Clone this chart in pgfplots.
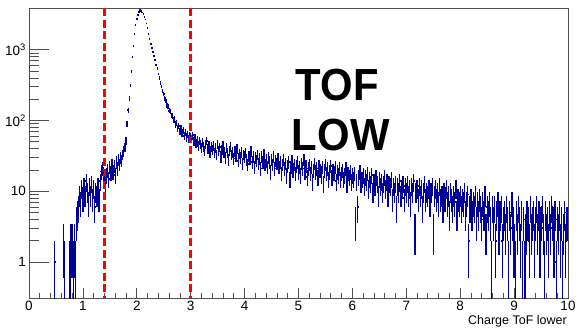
\documentclass[border=0pt]{standalone}
\usepackage{pgfplots}
\pgfplotsset{compat=1.18}
\usepackage{pgfplotstable}
\usepackage{fontspec}
\setmainfont{Liberation Sans}
\definecolor{histblue}{RGB}{0,0,153}
\definecolor{axgray}{RGB}{80,80,80}

\pgfplotstableread[row sep=\\]{
x y\\
0.01 570\\ 0.48 1\\ 0.64 2\\ 0.66 1\\ 0.76 1\\ 0.78 2\\ 0.80 2\\ 0.82 1\\ 0.84 2\\ 0.86 1\\ 0.88 4\\ 0.90 5\\
0.92 6\\ 0.94 9\\ 0.96 7\\ 0.98 11\\ 1.00 8\\ 1.02 12\\ 1.04 9\\ 1.06 14\\ 1.08 10\\ 1.10 7\\
1.12 12\\ 1.14 9\\ 1.16 13\\ 1.18 8\\ 1.20 11\\ 1.22 6\\ 1.24 10\\ 1.26 9\\ 1.28 12\\ 1.30 8\\
1.32 14\\ 1.34 19\\ 1.36 21\\ 1.38 18\\ 1.40 16\\ 1.42 13\\ 1.44 17\\ 1.46 20\\ 1.48 15\\ 1.50 22\\
1.52 18\\ 1.54 24\\ 1.56 19\\ 1.58 23\\ 1.60 17\\ 1.62 26\\ 1.64 21\\ 1.66 28\\ 1.68 24\\ 1.70 30\\
1.72 27\\ 1.74 33\\ 1.76 37\\ 1.78 42\\ 1.80 52\\ 1.82 90\\
1.84 140\\ 1.86 205\\ 1.88 315\\ 1.90 495\\ 1.92 785\\ 1.94 1140\\ 1.96 1660\\ 1.98 2230\\ 2.00 2760\\
2.02 3120\\ 2.04 3460\\ 2.06 3640\\ 2.08 3560\\ 2.10 3370\\ 2.12 3190\\ 2.14 2950\\ 2.16 2690\\ 2.18 2360\\ 2.20 2010\\
2.22 1690\\ 2.24 1440\\ 2.26 1210\\ 2.28 1070\\ 2.30 925\\ 2.32 815\\ 2.34 725\\ 2.36 615\\ 2.38 545\\ 2.40 455\\
2.42 400\\ 2.44 340\\ 2.46 305\\ 2.48 262\\ 2.50 238\\ 2.52 206\\ 2.54 188\\ 2.56 165\\ 2.58 158\\ 2.60 138\\
2.62 136\\ 2.64 119\\ 2.66 117\\ 2.68 102\\ 2.70 104\\ 2.72 89\\ 2.74 92\\ 2.76 78\\ 2.78 84\\ 2.80 71\\
2.82 77\\ 2.84 66\\ 2.86 73\\ 2.88 61\\ 2.90 68\\ 2.92 58\\ 2.94 64\\ 2.96 55\\ 2.98 62\\ 3.00 60\\
3.02 55\\ 3.04 62\\ 3.06 51\\ 3.08 57\\ 3.10 48\\ 3.12 53\\ 3.14 44\\ 3.16 52\\ 3.18 47\\ 3.20 41\\
3.22 49\\ 3.24 43\\ 3.26 38\\ 3.28 46\\ 3.30 52\\ 3.32 40\\ 3.34 45\\ 3.36 36\\ 3.38 43\\ 3.40 39\\
3.42 44\\ 3.44 35\\ 3.46 41\\ 3.48 33\\ 3.50 47\\ 3.52 38\\ 3.54 42\\ 3.56 31\\ 3.58 39\\ 3.60 44\\
3.62 36\\ 3.64 30\\ 3.66 41\\ 3.68 35\\ 3.70 28\\ 3.72 38\\ 3.74 43\\ 3.76 33\\ 3.78 36\\ 3.80 29\\
3.82 37\\ 3.84 32\\ 3.86 40\\ 3.88 27\\ 3.90 34\\ 3.92 30\\ 3.94 36\\ 3.96 25\\ 3.98 33\\ 4.00 31\\
4.02 35\\ 4.04 28\\ 4.06 24\\ 4.08 32\\ 4.10 29\\ 4.12 37\\ 4.14 26\\ 4.16 31\\ 4.18 22\\ 4.20 30\\
4.22 27\\ 4.24 33\\ 4.26 25\\ 4.28 29\\ 4.30 21\\ 4.32 31\\ 4.34 26\\ 4.36 34\\ 4.38 24\\ 4.40 28\\
4.42 22\\ 4.44 30\\ 4.46 26\\ 4.48 19\\ 4.50 28\\ 4.52 24\\ 4.54 31\\ 4.56 21\\ 4.58 27\\ 4.60 25\\
4.62 29\\ 4.64 22\\ 4.66 26\\ 4.68 18\\ 4.70 24\\ 4.72 28\\ 4.74 21\\ 4.76 25\\ 4.78 17\\ 4.80 23\\
4.82 26\\ 4.84 15\\ 4.86 22\\ 4.88 27\\ 4.90 20\\ 4.92 24\\ 4.94 18\\ 4.96 23\\ 4.98 26\\ 5.00 19\\
5.02 22\\ 5.04 17\\ 5.06 25\\ 5.08 21\\ 5.10 28\\ 5.12 19\\ 5.14 23\\ 5.16 16\\ 5.18 21\\ 5.20 24\\
5.22 18\\ 5.24 22\\ 5.26 14\\ 5.28 20\\ 5.30 25\\ 5.32 19\\ 5.34 21\\ 5.36 16\\ 5.38 23\\ 5.40 20\\
5.42 17\\ 5.44 22\\ 5.46 13\\ 5.48 20\\ 5.50 24\\ 5.52 18\\ 5.54 21\\ 5.56 15\\ 5.58 19\\ 5.60 23\\
5.62 16\\ 5.64 20\\ 5.66 18\\ 5.68 22\\ 5.70 14\\ 5.72 19\\ 5.74 17\\ 5.76 21\\ 5.78 15\\ 5.80 18\\
5.82 20\\ 5.84 15\\ 5.86 17\\ 5.88 21\\ 5.90 13\\ 5.92 18\\ 5.94 16\\ 5.96 19\\ 5.98 14\\ 6.00 17\\
6.02 15\\ 6.04 18\\ 6.06 4\\ 6.08 14\\ 6.10 6\\ 6.12 16\\ 6.14 19\\ 6.16 13\\ 6.18 15\\ 6.20 17\\
6.22 12\\ 6.24 16\\ 6.26 14\\ 6.28 18\\ 6.30 11\\ 6.32 15\\ 6.34 13\\ 6.36 17\\ 6.38 10\\ 6.40 14\\
6.42 12\\ 6.44 16\\ 6.46 13\\ 6.48 9\\ 6.50 15\\ 6.52 12\\ 6.54 14\\ 6.56 10\\ 6.58 13\\ 6.60 16\\
6.62 11\\ 6.64 14\\ 6.66 9\\ 6.68 13\\ 6.70 12\\ 6.72 15\\ 6.74 8\\ 6.76 12\\ 6.78 10\\ 6.80 13\\
6.82 6\\ 6.84 12\\ 6.86 10\\ 6.88 14\\ 6.90 9\\ 6.92 11\\ 6.94 13\\ 6.96 8\\ 6.98 12\\ 7.00 10\\
7.02 13\\ 7.04 9\\ 7.06 11\\ 7.08 7\\ 7.10 12\\ 7.12 10\\ 7.14 14\\ 7.16 3\\ 7.18 10\\ 7.20 11\\
7.22 8\\ 7.24 12\\ 7.26 9\\ 7.28 11\\ 7.30 6\\ 7.32 10\\ 7.34 13\\ 7.36 8\\ 7.38 10\\ 7.40 9\\
7.42 11\\ 7.44 7\\ 7.46 10\\ 7.48 12\\ 7.50 3\\ 7.52 9\\ 7.54 11\\ 7.56 8\\ 7.58 10\\ 7.60 7\\
7.62 12\\ 7.64 8\\ 7.66 9\\ 7.68 6\\ 7.70 10\\ 7.72 8\\ 7.74 11\\ 7.76 7\\ 7.78 9\\ 7.80 5\\
7.82 10\\ 7.84 8\\ 7.86 6\\ 7.88 9\\ 7.90 7\\ 7.92 11\\ 7.94 5\\ 7.96 8\\ 7.98 7\\ 8.00 9\\
8.02 6\\ 8.04 8\\ 8.06 7\\ 8.08 10\\ 8.10 5\\ 8.12 7\\ 8.14 9\\ 8.16 2\\ 8.18 6\\ 8.20 8\\
8.22 5\\ 8.24 7\\ 8.26 6\\ 8.28 9\\ 8.30 4\\ 8.32 7\\ 8.34 5\\ 8.36 8\\ 8.38 6\\ 8.40 4\\
8.42 7\\ 8.44 5\\ 8.46 9\\ 8.48 3\\ 8.50 6\\ 8.52 5\\ 8.54 7\\ 8.56 4\\ 8.58 1\\ 8.60 6\\
8.62 4\\ 8.64 6\\ 8.66 2\\ 8.68 5\\ 8.70 7\\ 8.72 3\\ 8.74 5\\ 8.76 6\\ 8.78 2\\ 8.80 4\\
8.82 5\\ 8.84 3\\ 8.86 6\\ 8.88 4\\ 8.90 1\\ 8.92 5\\ 8.94 3\\ 8.96 7\\ 8.98 4\\ 9.00 2\\
9.02 1\\ 9.04 5\\ 9.06 3\\ 9.08 6\\ 9.10 4\\ 9.12 2\\ 9.14 5\\ 9.16 1\\ 9.18 4\\ 9.20 1\\
9.22 3\\ 9.24 5\\ 9.26 4\\ 9.28 2\\ 9.30 6\\ 9.32 3\\ 9.34 4\\ 9.36 5\\ 9.38 2\\ 9.40 4\\
9.42 6\\ 9.44 3\\ 9.46 5\\ 9.48 2\\ 9.50 4\\ 9.52 6\\ 9.54 3\\ 9.56 1\\ 9.58 5\\ 9.60 3\\
9.62 4\\ 9.64 2\\ 9.66 5\\ 9.68 3\\ 9.70 6\\ 9.72 4\\ 9.74 2\\ 9.76 5\\ 9.78 1\\ 9.80 4\\
9.82 3\\ 9.84 5\\ 9.86 2\\ 9.88 4\\ 9.90 1\\ 9.92 3\\ 9.94 5\\ 9.96 2\\ 9.98 4\\
}\histdata

\begin{document}
\begin{tikzpicture}
\useasboundingbox (0,0) rectangle (583bp,328bp);
\begin{axis}[
  at={(29bp,30bp)}, anchor=south west,
  width=539bp, height=290bp, scale only axis,
  xmin=0, xmax=10, ymin=0.31, ymax=3900, ymode=log,
  xtick={0,1,...,10}, minor x tick num=4,
  ytick={1,10,100,1000},
  yticklabels={1,10,10\textsuperscript{2},10\textsuperscript{3}},
  xtick pos=left, ytick pos=left,
  tick align=inside,
  x tick style={/pgfplots/major tick length=10bp, /pgfplots/minor tick length=5bp},
  y tick style={/pgfplots/major tick length=20bp, /pgfplots/minor tick length=10bp},
  major tick length=20bp, minor tick length=10bp,
  tick style={axgray, line width=0.8bp},
  axis line style={axgray, line width=0.8bp},
  /pgf/number format/assume math mode=true,
  ticklabel style={font=\fontsize{13.5bp}{16bp}\selectfont},
  yticklabel style={anchor=east, inner sep=0pt, xshift=-3bp},
  xlabel={Charge ToF lower},
  x label style={at={(rel axis cs:1,0)}, anchor=base east, yshift=-26bp, xshift=-1bp, inner sep=0pt, font=\fontsize{12.5bp}{15bp}\selectfont},
]
\addplot[histblue, only marks, mark=-, mark size=0.75bp, mark options={line width=1.8bp},
  error bars/.cd, y dir=both, y explicit, error mark=none,
  error bar style={line width=1.25bp, histblue}]
  table[x=x, y=y, y error plus expr={sqrt(\thisrow{y})}, y error minus expr={min(sqrt(\thisrow{y}),\thisrow{y}-0.001)}] {\histdata};
\addplot[red, line width=2.7bp, dash pattern=on 8bp off 3.5bp] coordinates {(1.4,3900) (1.4,0.31)};
\addplot[red, line width=2.7bp, dash pattern=on 8bp off 3.5bp] coordinates {(3.0,3900) (3.0,0.31)};
\node[anchor=base west, inner sep=0pt, font=\fontsize{45bp}{50bp}\selectfont\bfseries] at (axis cs:4.944,193.6) {\scalebox{0.93}[1]{TOF}};
\node[anchor=base west, inner sep=0pt, font=\fontsize{45bp}{50bp}\selectfont\bfseries] at (axis cs:4.874,38.0) {\scalebox{0.93}[1]{LOW}};
\end{axis}
\end{tikzpicture}
\end{document}
